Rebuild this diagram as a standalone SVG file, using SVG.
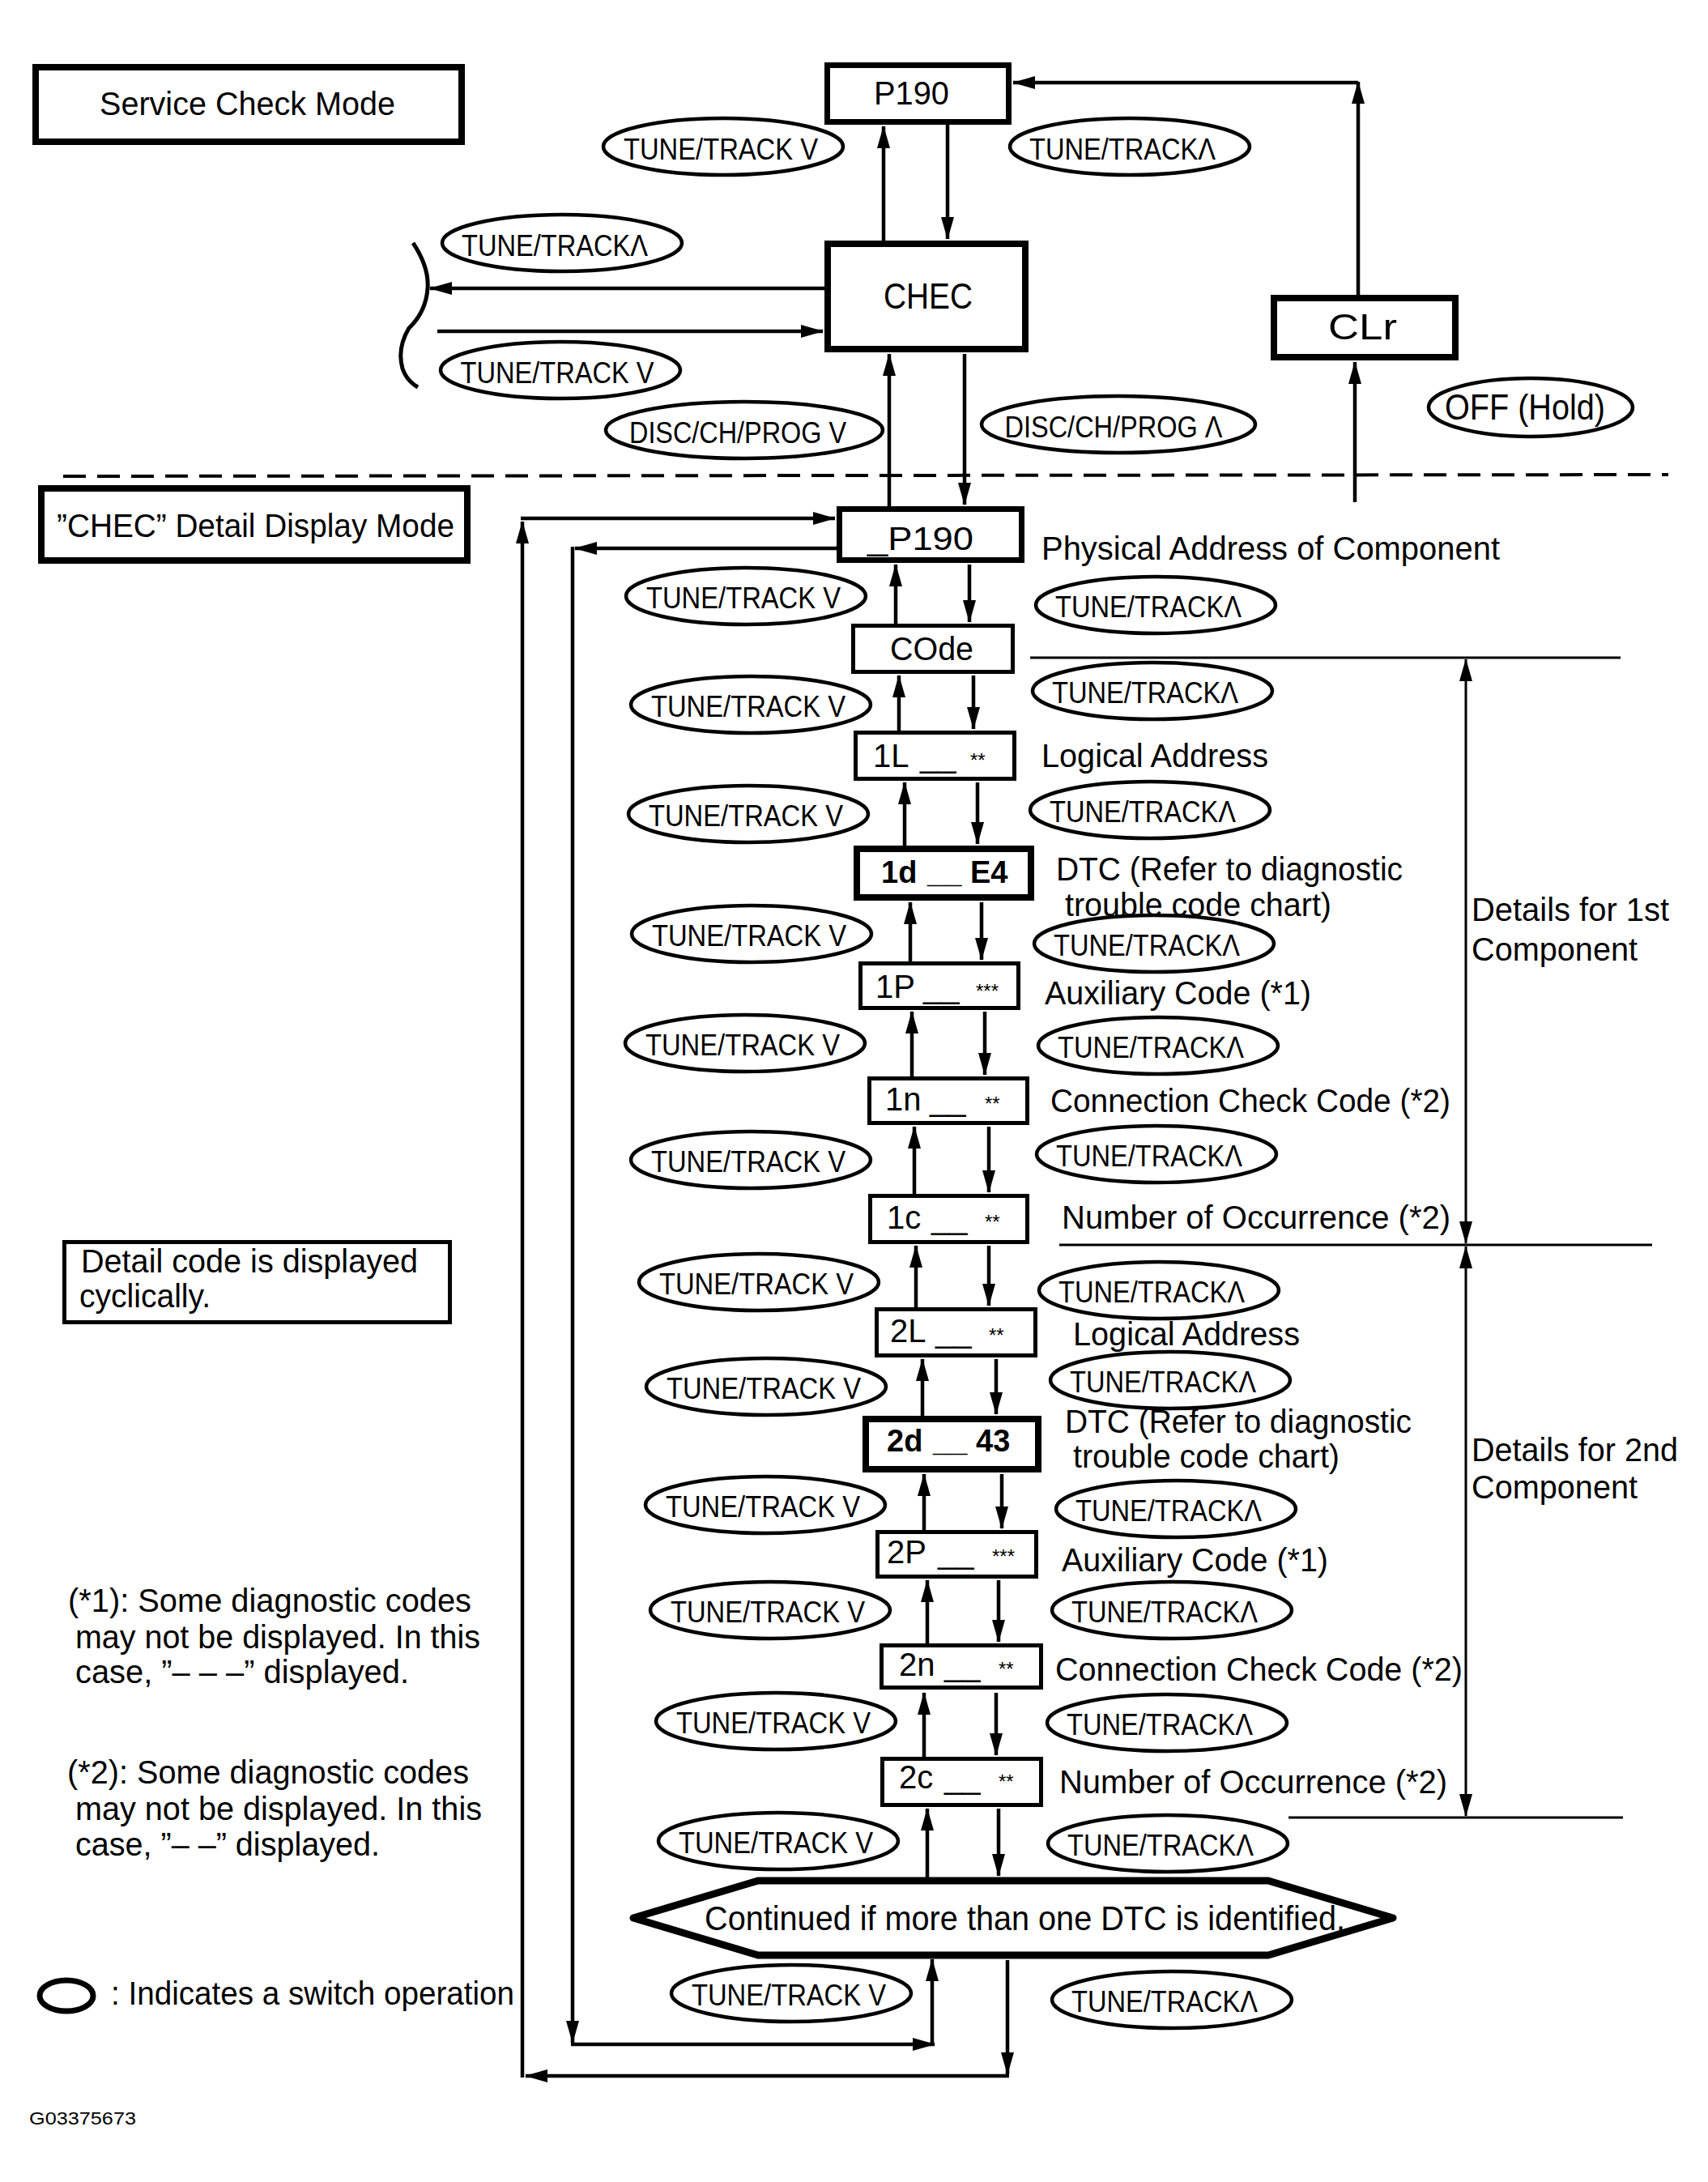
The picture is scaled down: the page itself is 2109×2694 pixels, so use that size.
<svg xmlns="http://www.w3.org/2000/svg" width="2109" height="2694" viewBox="0 0 2109 2694">
<style>
text{font-family:"Liberation Sans",Arial,sans-serif;fill:#000}
.t{font-size:40px}
.bx{fill:none;stroke:#000;stroke-width:5}
.bxk{fill:none;stroke:#000;stroke-width:8}
.ov{fill:none;stroke:#000;stroke-width:4.5}
.ol{font-size:37px;text-anchor:middle}
.cd{font-size:40px}
.cdb{font-size:38px;font-weight:bold}
.st{font-size:24px}
.ln{fill:none;stroke:#000;stroke-width:4.5}
.lt{fill:none;stroke:#000;stroke-width:3}
</style>
<defs>
<marker id="ah" viewBox="0 0 28 16" refX="27" refY="8" markerWidth="28" markerHeight="16" markerUnits="userSpaceOnUse" orient="auto-start-reverse"><path d="M0,0 L28,8 L0,16 z" fill="#000"/></marker>
</defs>
<rect width="2109" height="2694" fill="#fff"/>

<!-- Titles and notes -->
<g id="service-check-mode"><rect class="bxk" x="44" y="83" width="526" height="92"/><text class="t" x="123" y="142" textLength="365" lengthAdjust="spacingAndGlyphs">Service Check Mode</text></g>
<g id="chec-detail-mode"><rect class="bxk" x="51" y="603" width="526" height="89"/><text class="t" x="70" y="663" textLength="491" lengthAdjust="spacingAndGlyphs">”CHEC” Detail Display Mode</text></g>
<g id="note-cyclic"><rect class="bx" x="79.5" y="1533.5" width="476" height="99"/><text class="t" x="100" y="1571" textLength="416" lengthAdjust="spacingAndGlyphs">Detail code is displayed</text><text class="t" x="98" y="1614" textLength="162" lengthAdjust="spacingAndGlyphs">cyclically.</text></g>
<g id="note-1"><text class="t" x="84" y="1990" textLength="498" lengthAdjust="spacingAndGlyphs">(*1): Some diagnostic codes</text><text class="t" x="93" y="2035" textLength="500" lengthAdjust="spacingAndGlyphs">may not be displayed. In this</text><text class="t" x="93" y="2078" textLength="412" lengthAdjust="spacingAndGlyphs">case, ”– – –” displayed.</text></g>
<g id="note-2"><text class="t" x="83" y="2202" textLength="496" lengthAdjust="spacingAndGlyphs">(*2): Some diagnostic codes</text><text class="t" x="93" y="2247" textLength="502" lengthAdjust="spacingAndGlyphs">may not be displayed. In this</text><text class="t" x="93" y="2291" textLength="376" lengthAdjust="spacingAndGlyphs">case, ”– –” displayed.</text></g>
<g id="legend"><ellipse cx="82" cy="2464" rx="33" ry="19" fill="none" stroke="#000" stroke-width="7"/><text class="t" x="137" y="2475" textLength="498" lengthAdjust="spacingAndGlyphs">: Indicates a switch operation</text></g>
<text id="fig-id" x="36" y="2623" font-size="22" textLength="132" lengthAdjust="spacingAndGlyphs">G03375673</text>

<!-- Top section nodes -->
<g id="p190"><rect class="bxk" x="1021.5" y="80.5" width="224" height="70" style="stroke-width:7"/><text class="t" x="1079" y="129" textLength="93" lengthAdjust="spacingAndGlyphs">P190</text></g>
<g id="chec"><rect class="bxk" x="1022" y="301" width="244" height="130"/><text x="1091" y="381" font-size="44" textLength="110" lengthAdjust="spacingAndGlyphs">CHEC</text></g>
<g id="clr"><rect class="bxk" x="1573" y="368" width="224" height="73"/><text x="1640" y="419" font-size="44" textLength="85" lengthAdjust="spacingAndGlyphs">CLr</text></g>
<path id="brace" d="M510,300 Q530,330 528,356 Q526,385 505,405 Q490,430 497,455 Q502,470 516,478" fill="none" stroke="#000" stroke-width="5"/>
<line id="divider" x1="78" y1="588" x2="2060" y2="586" stroke="#000" stroke-width="4" stroke-dasharray="28 14"/>

<!-- Switch operation ovals (top) -->
<g id="sw-top-v"><ellipse class="ov" cx="893" cy="181" rx="148" ry="35"/><text class="ol" x="890" y="197" textLength="240" lengthAdjust="spacingAndGlyphs">TUNE/TRACK V</text></g>
<g id="sw-top-a"><ellipse class="ov" cx="1395" cy="181" rx="148" ry="35"/><text class="ol" x="1386" y="197" textLength="230" lengthAdjust="spacingAndGlyphs">TUNE/TRACKΛ</text></g>
<g id="sw-left-a"><ellipse class="ov" cx="694" cy="300" rx="148" ry="35"/><text class="ol" x="685" y="316" textLength="230" lengthAdjust="spacingAndGlyphs">TUNE/TRACKΛ</text></g>
<g id="sw-left-v"><ellipse class="ov" cx="692" cy="457" rx="148" ry="35"/><text class="ol" x="688" y="473" textLength="239" lengthAdjust="spacingAndGlyphs">TUNE/TRACK V</text></g>
<g id="sw-disc-v"><ellipse class="ov" cx="919" cy="531" rx="171" ry="35"/><text class="ol" x="911" y="547" textLength="268" lengthAdjust="spacingAndGlyphs">DISC/CH/PROG V</text></g>
<g id="sw-disc-a"><ellipse class="ov" cx="1381" cy="524" rx="169" ry="35"/><text class="ol" x="1375" y="540" textLength="269" lengthAdjust="spacingAndGlyphs">DISC/CH/PROG Λ</text></g>
<g id="sw-off"><ellipse class="ov" cx="1890" cy="503" rx="126" ry="36"/><text x="1883" y="518" font-size="44" text-anchor="middle" textLength="198" lengthAdjust="spacingAndGlyphs">OFF (Hold)</text></g>

<!-- Detail chain nodes -->
<g id="n-p190"><rect class="bxk" x="1036.5" y="628.5" width="225" height="63" style="stroke-width:7"/><text class="cd" x="1071" y="679" textLength="131" lengthAdjust="spacingAndGlyphs">_P190</text><text class="t" x="1286" y="691" textLength="566" lengthAdjust="spacingAndGlyphs">Physical Address of Component</text></g>
<g id="n-code"><rect class="bx" x="1053.5" y="772.5" width="197" height="57"/><text class="cd" x="1099" y="815" textLength="103" lengthAdjust="spacingAndGlyphs">COde</text></g>
<g id="n-1l"><rect class="bx" x="1056.5" y="904.5" width="196" height="57"/><text class="cd" y="947"><tspan x="1078">1L</tspan><tspan x="1136">__</tspan><tspan x="1198" class="st">**</tspan></text><text class="t" x="1286" y="947" textLength="280" lengthAdjust="spacingAndGlyphs">Logical Address</text></g>
<g id="n-1d"><rect class="bxk" x="1058" y="1048" width="215" height="60"/><text class="cdb" y="1090"><tspan x="1088">1d</tspan><tspan x="1145">__</tspan><tspan x="1198">E4</tspan></text><text class="t" x="1304" y="1087" textLength="428" lengthAdjust="spacingAndGlyphs">DTC (Refer to diagnostic</text><text class="t" x="1315" y="1131" textLength="329" lengthAdjust="spacingAndGlyphs">trouble code chart)</text></g>
<g id="n-1p"><rect class="bx" x="1062.5" y="1189.5" width="195" height="55"/><text class="cd" y="1232"><tspan x="1081">1P</tspan><tspan x="1140">__</tspan><tspan x="1205" class="st">***</tspan></text><text class="t" x="1290" y="1240" textLength="329" lengthAdjust="spacingAndGlyphs">Auxiliary Code (*1)</text></g>
<g id="n-1n"><rect class="bx" x="1073.5" y="1331.5" width="195" height="55"/><text class="cd" y="1371"><tspan x="1093">1n</tspan><tspan x="1148">__</tspan><tspan x="1216" class="st">**</tspan></text><text class="t" x="1297" y="1373" textLength="494" lengthAdjust="spacingAndGlyphs">Connection Check Code (*2)</text></g>
<g id="n-1c"><rect class="bx" x="1074.5" y="1476.5" width="194" height="57"/><text class="cd" y="1517"><tspan x="1095">1c</tspan><tspan x="1150">__</tspan><tspan x="1216" class="st">**</tspan></text><text class="t" x="1311" y="1517" textLength="480" lengthAdjust="spacingAndGlyphs">Number of Occurrence (*2)</text></g>
<g id="n-2l"><rect class="bx" x="1082.5" y="1616.5" width="196" height="57"/><text class="cd" y="1657"><tspan x="1099">2L</tspan><tspan x="1155">__</tspan><tspan x="1221" class="st">**</tspan></text><text class="t" x="1325" y="1661" textLength="280" lengthAdjust="spacingAndGlyphs">Logical Address</text></g>
<g id="n-2d"><rect class="bxk" x="1069" y="1752" width="213" height="62"/><text class="cdb" y="1792"><tspan x="1095">2d</tspan><tspan x="1152">__</tspan><tspan x="1205">43</tspan></text><text class="t" x="1315" y="1769" textLength="428" lengthAdjust="spacingAndGlyphs">DTC (Refer to diagnostic</text><text class="t" x="1325" y="1812" textLength="329" lengthAdjust="spacingAndGlyphs">trouble code chart)</text></g>
<g id="n-2p"><rect class="bx" x="1083.5" y="1891.5" width="196" height="55"/><text class="cd" y="1930"><tspan x="1095">2P</tspan><tspan x="1158">__</tspan><tspan x="1225" class="st">***</tspan></text><text class="t" x="1311" y="1940" textLength="329" lengthAdjust="spacingAndGlyphs">Auxiliary Code (*1)</text></g>
<g id="n-2n"><rect class="bx" x="1088.5" y="2031.5" width="197" height="52"/><text class="cd" y="2069"><tspan x="1110">2n</tspan><tspan x="1166">__</tspan><tspan x="1233" class="st">**</tspan></text><text class="t" x="1303" y="2075" textLength="503" lengthAdjust="spacingAndGlyphs">Connection Check Code (*2)</text></g>
<g id="n-2c"><rect class="bx" x="1089.5" y="2171.5" width="196" height="57"/><text class="cd" y="2208"><tspan x="1110">2c</tspan><tspan x="1166">__</tspan><tspan x="1233" class="st">**</tspan></text><text class="t" x="1308" y="2214" textLength="479" lengthAdjust="spacingAndGlyphs">Number of Occurrence (*2)</text></g>
<g id="n-continue"><polygon points="782,2368 936,2322 1566,2322 1720,2368 1566,2414 936,2414" fill="none" stroke="#000" stroke-width="9" stroke-linejoin="round"/><text x="870" y="2383" font-size="42" textLength="791" lengthAdjust="spacingAndGlyphs">Continued if more than one DTC is identified.</text></g>

<g id="comp-1"><text class="t" x="1817" y="1137" textLength="244" lengthAdjust="spacingAndGlyphs">Details for 1st</text><text class="t" x="1817" y="1186" textLength="205" lengthAdjust="spacingAndGlyphs">Component</text></g>
<g id="comp-2"><text class="t" x="1817" y="1804" textLength="255" lengthAdjust="spacingAndGlyphs">Details for 2nd</text><text class="t" x="1817" y="1850" textLength="205" lengthAdjust="spacingAndGlyphs">Component</text></g>

<!-- Switch ovals in detail chain -->
<g id="sw-chain">
<g><ellipse class="ov" cx="921" cy="736" rx="148" ry="35"/><text class="ol" x="918" y="751" textLength="240" lengthAdjust="spacingAndGlyphs">TUNE/TRACK V</text></g>
<g><ellipse class="ov" cx="927" cy="870" rx="148" ry="35"/><text class="ol" x="924" y="885" textLength="240" lengthAdjust="spacingAndGlyphs">TUNE/TRACK V</text></g>
<g><ellipse class="ov" cx="924" cy="1005" rx="148" ry="35"/><text class="ol" x="921" y="1020" textLength="240" lengthAdjust="spacingAndGlyphs">TUNE/TRACK V</text></g>
<g><ellipse class="ov" cx="928" cy="1153" rx="148" ry="35"/><text class="ol" x="925" y="1168" textLength="240" lengthAdjust="spacingAndGlyphs">TUNE/TRACK V</text></g>
<g><ellipse class="ov" cx="920" cy="1288" rx="148" ry="35"/><text class="ol" x="917" y="1303" textLength="240" lengthAdjust="spacingAndGlyphs">TUNE/TRACK V</text></g>
<g><ellipse class="ov" cx="927" cy="1432" rx="148" ry="35"/><text class="ol" x="924" y="1447" textLength="240" lengthAdjust="spacingAndGlyphs">TUNE/TRACK V</text></g>
<g><ellipse class="ov" cx="937" cy="1583" rx="148" ry="35"/><text class="ol" x="934" y="1598" textLength="240" lengthAdjust="spacingAndGlyphs">TUNE/TRACK V</text></g>
<g><ellipse class="ov" cx="946" cy="1712" rx="148" ry="35"/><text class="ol" x="943" y="1727" textLength="240" lengthAdjust="spacingAndGlyphs">TUNE/TRACK V</text></g>
<g><ellipse class="ov" cx="945" cy="1858" rx="148" ry="35"/><text class="ol" x="942" y="1873" textLength="240" lengthAdjust="spacingAndGlyphs">TUNE/TRACK V</text></g>
<g><ellipse class="ov" cx="951" cy="1988" rx="148" ry="35"/><text class="ol" x="948" y="2003" textLength="240" lengthAdjust="spacingAndGlyphs">TUNE/TRACK V</text></g>
<g><ellipse class="ov" cx="958" cy="2125" rx="148" ry="35"/><text class="ol" x="955" y="2140" textLength="240" lengthAdjust="spacingAndGlyphs">TUNE/TRACK V</text></g>
<g><ellipse class="ov" cx="961" cy="2273" rx="148" ry="35"/><text class="ol" x="958" y="2288" textLength="240" lengthAdjust="spacingAndGlyphs">TUNE/TRACK V</text></g>
<g><ellipse class="ov" cx="977" cy="2461" rx="148" ry="35"/><text class="ol" x="974" y="2476" textLength="240" lengthAdjust="spacingAndGlyphs">TUNE/TRACK V</text></g>
<g><ellipse class="ov" cx="1427" cy="747" rx="148" ry="35"/><text class="ol" x="1418" y="762" textLength="230" lengthAdjust="spacingAndGlyphs">TUNE/TRACKΛ</text></g>
<g><ellipse class="ov" cx="1423" cy="853" rx="148" ry="35"/><text class="ol" x="1414" y="868" textLength="230" lengthAdjust="spacingAndGlyphs">TUNE/TRACKΛ</text></g>
<g><ellipse class="ov" cx="1420" cy="1000" rx="148" ry="35"/><text class="ol" x="1411" y="1015" textLength="230" lengthAdjust="spacingAndGlyphs">TUNE/TRACKΛ</text></g>
<g><ellipse class="ov" cx="1425" cy="1165" rx="148" ry="35"/><text class="ol" x="1416" y="1180" textLength="230" lengthAdjust="spacingAndGlyphs">TUNE/TRACKΛ</text></g>
<g><ellipse class="ov" cx="1430" cy="1291" rx="148" ry="35"/><text class="ol" x="1421" y="1306" textLength="230" lengthAdjust="spacingAndGlyphs">TUNE/TRACKΛ</text></g>
<g><ellipse class="ov" cx="1428" cy="1425" rx="148" ry="35"/><text class="ol" x="1419" y="1440" textLength="230" lengthAdjust="spacingAndGlyphs">TUNE/TRACKΛ</text></g>
<g><ellipse class="ov" cx="1431" cy="1593" rx="148" ry="35"/><text class="ol" x="1422" y="1608" textLength="230" lengthAdjust="spacingAndGlyphs">TUNE/TRACKΛ</text></g>
<g><ellipse class="ov" cx="1445" cy="1704" rx="148" ry="35"/><text class="ol" x="1436" y="1719" textLength="230" lengthAdjust="spacingAndGlyphs">TUNE/TRACKΛ</text></g>
<g><ellipse class="ov" cx="1452" cy="1863" rx="148" ry="35"/><text class="ol" x="1443" y="1878" textLength="230" lengthAdjust="spacingAndGlyphs">TUNE/TRACKΛ</text></g>
<g><ellipse class="ov" cx="1447" cy="1988" rx="148" ry="35"/><text class="ol" x="1438" y="2003" textLength="230" lengthAdjust="spacingAndGlyphs">TUNE/TRACKΛ</text></g>
<g><ellipse class="ov" cx="1441" cy="2127" rx="148" ry="35"/><text class="ol" x="1432" y="2142" textLength="230" lengthAdjust="spacingAndGlyphs">TUNE/TRACKΛ</text></g>
<g><ellipse class="ov" cx="1442" cy="2276" rx="148" ry="35"/><text class="ol" x="1433" y="2291" textLength="230" lengthAdjust="spacingAndGlyphs">TUNE/TRACKΛ</text></g>
<g><ellipse class="ov" cx="1447" cy="2469" rx="148" ry="35"/><text class="ol" x="1438" y="2484" textLength="230" lengthAdjust="spacingAndGlyphs">TUNE/TRACKΛ</text></g>
</g>

<!-- Connectors -->
<g id="connectors">
<path class="ln" d="M1091,297 L1091,156" marker-end="url(#ah)"/>
<path class="ln" d="M1170,154 L1170,295" marker-end="url(#ah)"/>
<path class="ln" d="M1018,356 L531,356" marker-end="url(#ah)"/>
<path class="ln" d="M540,409 L1016,409" marker-end="url(#ah)"/>
<path class="ln" d="M1098,625 L1098,437" marker-end="url(#ah)"/>
<path class="ln" d="M1191,437 L1191,623" marker-end="url(#ah)"/>
<path class="ln" d="M1677,364 L1677,101" marker-end="url(#ah)"/>
<path class="ln" d="M1677,102 L1251,102" marker-end="url(#ah)"/>
<path class="ln" d="M1673,620 L1673,447" marker-end="url(#ah)"/>
<path class="ln" d="M1106,770 L1106,697" marker-end="url(#ah)"/>
<path class="ln" d="M1197,697 L1197,768" marker-end="url(#ah)"/>
<path class="ln" d="M1110,902 L1110,834" marker-end="url(#ah)"/>
<path class="ln" d="M1202,834 L1202,900" marker-end="url(#ah)"/>
<path class="ln" d="M1117,1044 L1117,966" marker-end="url(#ah)"/>
<path class="ln" d="M1207,966 L1207,1042" marker-end="url(#ah)"/>
<path class="ln" d="M1124,1187 L1124,1114" marker-end="url(#ah)"/>
<path class="ln" d="M1212,1114 L1212,1185" marker-end="url(#ah)"/>
<path class="ln" d="M1126,1329 L1126,1249" marker-end="url(#ah)"/>
<path class="ln" d="M1216,1249 L1216,1327" marker-end="url(#ah)"/>
<path class="ln" d="M1129,1474 L1129,1391" marker-end="url(#ah)"/>
<path class="ln" d="M1221,1391 L1221,1472" marker-end="url(#ah)"/>
<path class="ln" d="M1131,1614 L1131,1538" marker-end="url(#ah)"/>
<path class="ln" d="M1221,1538 L1221,1612" marker-end="url(#ah)"/>
<path class="ln" d="M1139,1748 L1139,1678" marker-end="url(#ah)"/>
<path class="ln" d="M1230,1678 L1230,1746" marker-end="url(#ah)"/>
<path class="ln" d="M1141,1889 L1141,1820" marker-end="url(#ah)"/>
<path class="ln" d="M1237,1820 L1237,1887" marker-end="url(#ah)"/>
<path class="ln" d="M1145,2029 L1145,1951" marker-end="url(#ah)"/>
<path class="ln" d="M1233,1951 L1233,2027" marker-end="url(#ah)"/>
<path class="ln" d="M1141,2169 L1141,2090" marker-end="url(#ah)"/>
<path class="ln" d="M1230,2090 L1230,2167" marker-end="url(#ah)"/>
<path class="ln" d="M1145,2318 L1145,2233" marker-end="url(#ah)"/>
<path class="ln" d="M1233,2233 L1233,2316" marker-end="url(#ah)"/>
<path class="ln" d="M1244,2420 L1244,2561" marker-end="url(#ah)"/>
<path class="ln" d="M1246,2563 L649,2563" marker-end="url(#ah)"/>
<path class="ln" d="M645,2565 L645,644" marker-end="url(#ah)"/>
<path class="ln" d="M643,640 L1031,640" marker-end="url(#ah)"/>
<path class="ln" d="M1033,677 L710,677" marker-end="url(#ah)"/>
<path class="ln" d="M707,675 L707,2522" marker-end="url(#ah)"/>
<path class="ln" d="M705,2524 L1154,2524" marker-end="url(#ah)"/>
<path class="ln" d="M1151,2526 L1151,2419" marker-end="url(#ah)"/>
<line class="lt" x1="1272" y1="812" x2="2001" y2="812"/>
<line class="lt" x1="1308" y1="1537" x2="2040" y2="1537"/>
<line class="lt" x1="1591" y1="2244" x2="2004" y2="2244"/>
<path class="lt" d="M1810,814 L1810,1535" marker-start="url(#ah)" marker-end="url(#ah)"/>
<path class="lt" d="M1810,1539 L1810,2242" marker-start="url(#ah)" marker-end="url(#ah)"/>
</g>
</svg>
